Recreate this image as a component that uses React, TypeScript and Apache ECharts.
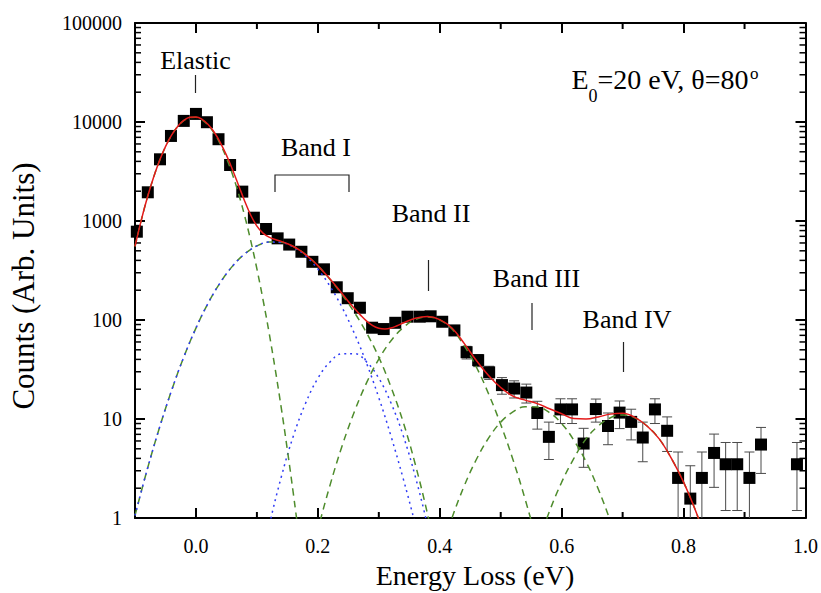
import React, { useEffect, useRef } from "react";
import * as echarts from "echarts";

// ---- measured data (energy loss in eV, counts) ----
const energy = [-0.097, -0.079, -0.059, -0.041, -0.020, 0.000, 0.018, 0.037, 0.056, 0.076, 0.095, 0.115, 0.134, 0.153, 0.173, 0.191, 0.210, 0.231, 0.249, 0.269, 0.289, 0.308, 0.327, 0.347, 0.367, 0.385, 0.404, 0.424, 0.444, 0.463, 0.481, 0.502, 0.522, 0.542, 0.560, 0.579, 0.598, 0.617, 0.636, 0.656, 0.676, 0.695, 0.714, 0.733, 0.753, 0.773, 0.791, 0.811, 0.830, 0.850, 0.869, 0.888, 0.908, 0.927, 0.986];
const counts = [780, 1950, 4200, 7230, 10260, 12070, 9950, 6700, 3680, 1980, 1080, 830, 668, 578, 489, 387, 325, 214, 166, 133, 83.6, 81, 93.7, 108, 108, 109, 96, 78.5, 47.3, 39.3, 29.6, 22, 20.3, 18.5, 11.5, 6.6, 12.5, 12.5, 5.65, 12.6, 8.5, 11.6, 9.35, 6.5, 12.5, 7.6, 2.54, 1.57, 2.54, 4.54, 3.49, 3.49, 2.54, 5.52, 3.49];
const errors = [28, 44, 65, 85, 101, 110, 100, 82, 61, 44, 33, 29, 26, 24, 22, 20, 18, 15, 13, 11.5, 9, 9, 9.7, 10.4, 10.4, 10.4, 9.8, 8.9, 6.9, 5.5, 4.5, 4.2, 4.0, 4.0, 3.6, 2.7, 3.5, 3.5, 2.4, 3.3, 3.0, 3.6, 3.2, 2.8, 3.5, 2.9, 2.1, 1.8, 2.1, 2.5, 2.3, 2.3, 2.1, 2.7, 2.3];

// ---- fitted curves: [energy, counts] ----
const totalFit: [number, number][] = [[-0.10, 554], [-0.09, 1004], [-0.08, 1705], [-0.07, 2709], [-0.06, 4035], [-0.05, 5636], [-0.04, 7364], [-0.03, 9024], [-0.02, 10362], [-0.01, 11150], [0.00, 11243], [0.01, 10642], [0.02, 9445], [0.03, 7882], [0.04, 6203], [0.05, 4622], [0.06, 3296], [0.07, 2285], [0.08, 1586], [0.09, 1144], [0.10, 888], [0.11, 754], [0.12, 687], [0.13, 650], [0.14, 622], [0.15, 590], [0.16, 553], [0.17, 508], [0.18, 458], [0.19, 405], [0.20, 354], [0.21, 303], [0.22, 259], [0.23, 219], [0.24, 184], [0.25, 154], [0.26, 131], [0.27, 112], [0.28, 97.4], [0.29, 87.8], [0.30, 82.5], [0.31, 81.2], [0.32, 83], [0.33, 87.5], [0.34, 93.2], [0.36, 104.3], [0.38, 108.3], [0.40, 101], [0.42, 83], [0.44, 58], [0.46, 39], [0.48, 27.5], [0.50, 20.8], [0.52, 17.0], [0.54, 15.5], [0.56, 14.3], [0.58, 12.7], [0.60, 11.3], [0.62, 10.1], [0.64, 10.0], [0.66, 10.5], [0.68, 11.2], [0.70, 11.4], [0.72, 10.4], [0.74, 8.5], [0.76, 6.3], [0.78, 4.0], [0.80, 2.3], [0.82, 1.17], [0.84, 0.52]];
const elasticFit: [number, number][] = [[-0.10, 553], [-0.09, 1002], [-0.08, 1702], [-0.07, 2704], [-0.06, 4027], [-0.05, 5623], [-0.04, 7345], [-0.03, 8995], [-0.02, 10320], [-0.01, 11090], [0.00, 11160], [0.01, 10530], [0.02, 9297], [0.03, 7692], [0.04, 5964], [0.05, 4330], [0.06, 2946], [0.07, 1877], [0.08, 1121], [0.09, 627], [0.10, 328], [0.11, 161], [0.12, 74.1], [0.13, 31.9], [0.14, 12.9], [0.15, 4.86], [0.16, 1.72], [0.17, 0.57], [0.18, 0.18]];
const bandIFit: [number, number][] = [[-0.10, 1.06], [-0.08, 3.08], [-0.06, 8.1], [-0.04, 19.4], [-0.02, 42.2], [0.00, 82.8], [0.02, 148], [0.04, 239], [0.06, 350], [0.08, 465], [0.10, 560], [0.12, 613], [0.14, 609], [0.16, 551], [0.18, 458], [0.20, 353], [0.22, 257], [0.24, 179], [0.26, 119], [0.28, 74], [0.30, 42], [0.32, 21], [0.34, 9.3], [0.36, 3.45], [0.38, 1.09], [0.40, 0.29]];
const bandIaFit: [number, number][] = [[-0.10, 1.06], [-0.08, 3.08], [-0.06, 8.1], [-0.04, 19.4], [-0.02, 42.2], [0.00, 82.8], [0.02, 148], [0.04, 239], [0.06, 350], [0.08, 465], [0.10, 560], [0.12, 612], [0.14, 606], [0.16, 544], [0.18, 443], [0.20, 327], [0.22, 219], [0.24, 133], [0.26, 73], [0.28, 36.4], [0.30, 16.4], [0.32, 6.7], [0.34, 2.5], [0.36, 0.85], [0.38, 0.26]];
const bandIbFit: [number, number][] = [[0.10, 0.22], [0.12, 0.83], [0.14, 2.6], [0.16, 6.8], [0.18, 14.5], [0.20, 25.8], [0.22, 37.7], [0.24, 45.7], [0.26, 45.7], [0.28, 37.7], [0.30, 25.8], [0.32, 14.5], [0.34, 6.8], [0.36, 2.6], [0.38, 0.83], [0.40, 0.22]];
const bandIIFit: [number, number][] = [[0.18, 0.24], [0.20, 0.76], [0.22, 2.15], [0.24, 5.4], [0.26, 11.9], [0.28, 23.3], [0.30, 40.3], [0.32, 61.8], [0.34, 83.9], [0.36, 100.8], [0.38, 107.2], [0.40, 100], [0.42, 81], [0.44, 55], [0.46, 33.5], [0.48, 18], [0.50, 8.8], [0.52, 3.9], [0.54, 1.55], [0.56, 0.55], [0.58, 0.17]];
const bandIIIFit: [number, number][] = [[0.38, 0.155], [0.40, 0.42], [0.42, 1.0], [0.44, 2.1], [0.46, 3.9], [0.48, 6.4], [0.50, 9.3], [0.52, 11.8], [0.54, 13.3], [0.56, 13.2], [0.58, 11.6], [0.60, 9.0], [0.62, 6.1], [0.64, 3.7], [0.66, 1.96], [0.68, 0.92], [0.70, 0.38], [0.72, 0.14]];
const bandIVFit: [number, number][] = [[0.54, 0.2], [0.56, 0.52], [0.58, 1.17], [0.60, 2.3], [0.62, 4.0], [0.64, 6.3], [0.66, 8.5], [0.68, 10.3], [0.70, 11.0], [0.72, 10.3], [0.74, 8.5], [0.76, 6.3], [0.78, 4.0], [0.80, 2.3], [0.82, 1.17], [0.84, 0.52], [0.86, 0.2]];

// ---- axis ticks ----
const xMajorTicks = [0, 0.2, 0.4, 0.6, 0.8, 1.0];
const xMinorTicks = [0.1, 0.3, 0.5, 0.7, 0.9];
const yMinorTicks = [2, 3, 4, 5, 6, 7, 8, 9, 20, 30, 40, 50, 60, 70, 80, 90, 200, 300, 400, 500, 600, 700, 800, 900, 2000, 3000, 4000, 5000, 6000, 7000, 8000, 9000, 20000, 30000, 40000, 50000, 60000, 70000, 80000, 90000];

const X_MIN = -0.1;
const X_MAX = 1.0;
const Y_MIN = 1;
const Y_MAX = 100000;

const FONT = "Liberation Serif, Times New Roman, serif";
const GREEN = "#4e8c2c";
const BLUE = "#2f3cf5";
const RED = "#e41a1a";

function fitLine(name: string, data: [number, number][], color: string, type: any, z: number) {
  return {
    name,
    type: "line",
    data,
    smooth: 0.4,
    showSymbol: false,
    symbol: "none",
    silent: true,
    clip: true,
    z,
    lineStyle: { color, width: 1.5, type },
  };
}

function txt(text: string, x: number, y: number, size: number, align = "center", extra: any = {}) {
  return {
    type: "text",
    x,
    y,
    ...extra,
    style: { text, font: `${size}px ${FONT}`, fill: "#000", textAlign: align, textVerticalAlign: "middle" },
  };
}

export default function App() {
  const ref = useRef<HTMLDivElement>(null);
  useEffect(() => {
    if (!ref.current) return;
    const chart = echarts.init(ref.current, null, { renderer: "svg" });
    const axisLine = { show: true, onZero: false, lineStyle: { color: "#000", width: 2 } };
    const tickStyle = { color: "#000", width: 2 };
    const option: any = {
      animation: false,
      backgroundColor: "#fff",
      grid: { left: 135, right: 14, top: 23, bottom: 75, containLabel: false },
      xAxis: [
        {
          type: "value",
          min: X_MIN,
          max: X_MAX,
          position: "bottom",
          axisLine,
          axisTick: { show: true, inside: true, length: 10, customValues: xMajorTicks, lineStyle: tickStyle },
          axisLabel: {
            show: true,
            customValues: xMajorTicks,
            formatter: (v: number) => v.toFixed(1),
            fontFamily: FONT,
            fontSize: 20,
            color: "#000",
            margin: 18,
          },
          splitLine: { show: false },
        },
        {
          type: "value",
          min: X_MIN,
          max: X_MAX,
          position: "top",
          axisLine,
          axisTick: { show: true, inside: true, length: 10, customValues: xMajorTicks, lineStyle: tickStyle },
          axisLabel: { show: false },
          splitLine: { show: false },
        },
      ],
      yAxis: [
        {
          type: "log",
          logBase: 10,
          min: Y_MIN,
          max: Y_MAX,
          splitNumber: 5,
          position: "left",
          axisLine,
          axisTick: { show: true, inside: true, length: 10, lineStyle: tickStyle },
          axisLabel: {
            formatter: (v: number) => String(Math.round(v)),
            fontFamily: FONT,
            fontSize: 20,
            color: "#000",
            margin: 13,
          },
          splitLine: { show: false },
        },
        {
          type: "log",
          logBase: 10,
          min: Y_MIN,
          max: Y_MAX,
          splitNumber: 5,
          position: "right",
          axisLine,
          axisTick: { show: true, inside: true, length: 10, lineStyle: tickStyle },
          axisLabel: { show: false },
          splitLine: { show: false },
        },
      ],
      series: [
        {
          type: "custom",
          name: "yMinorTicks",
          silent: true,
          data: yMinorTicks.map((v) => [X_MIN, v]),
          encode: { x: 0, y: 1 },
          renderItem: (_p: any, api: any) => {
            const v = api.value(1);
            const l = api.coord([X_MIN, v]);
            const r = api.coord([X_MAX, v]);
            const st = { stroke: "#000", lineWidth: 1.5 };
            return {
              type: "group",
              children: [
                { type: "line", shape: { x1: l[0], y1: l[1], x2: l[0] + 6, y2: l[1] }, style: st },
                { type: "line", shape: { x1: r[0] - 6, y1: r[1], x2: r[0], y2: r[1] }, style: st },
              ],
            };
          },
          z: 5,
        },
        {
          type: "custom",
          name: "xMinorTicks",
          silent: true,
          data: xMinorTicks.map((v) => [v, Y_MIN]),
          encode: { x: 0, y: 1 },
          renderItem: (_p: any, api: any) => {
            const v = api.value(0);
            const b = api.coord([v, Y_MIN]);
            const t = api.coord([v, Y_MAX]);
            const st = { stroke: "#000", lineWidth: 2 };
            return {
              type: "group",
              children: [
                { type: "line", shape: { x1: b[0], y1: b[1], x2: b[0], y2: b[1] - 6 }, style: st },
                { type: "line", shape: { x1: t[0], y1: t[1], x2: t[0], y2: t[1] + 6 }, style: st },
              ],
            };
          },
          z: 5,
        },
        {
          type: "custom",
          name: "errorBars",
          silent: true,
          clip: true,
          data: energy.map((x, i) => [x, counts[i], errors[i]]),
          encode: { x: 0, y: 1 },
          renderItem: (_p: any, api: any) => {
            const x = api.value(0);
            const y = api.value(1);
            const e = api.value(2);
            const hi = api.coord([x, y + e]);
            const lo = api.coord([x, Math.max(y - e, 0.01)]);
            const w = 5;
            const st = { stroke: "#4a4a4a", lineWidth: 1 };
            return {
              type: "group",
              children: [
                { type: "line", shape: { x1: hi[0], y1: hi[1], x2: lo[0], y2: lo[1] }, style: st },
                { type: "line", shape: { x1: hi[0] - w, y1: hi[1], x2: hi[0] + w, y2: hi[1] }, style: st },
                { type: "line", shape: { x1: lo[0] - w, y1: lo[1], x2: lo[0] + w, y2: lo[1] }, style: st },
              ],
            };
          },
          z: 2,
        },
        {
          type: "scatter",
          name: "Data",
          data: energy.map((x, i) => [x, counts[i]]),
          symbol: "rect",
          symbolSize: 12,
          itemStyle: { color: "#000", opacity: 1 },
          silent: true,
          z: 3,
        },
        fitLine("Band I", bandIFit, GREEN, [7, 5], 4),
        fitLine("Band I a", bandIaFit, BLUE, [2, 4], 4),
        fitLine("Band I b", bandIbFit, BLUE, [2, 4], 4),
        fitLine("Elastic", elasticFit, GREEN, [7, 5], 4),
        fitLine("Band II", bandIIFit, GREEN, [7, 5], 4),
        fitLine("Band III", bandIIIFit, GREEN, [7, 5], 4),
        fitLine("Band IV", bandIVFit, GREEN, [7, 5], 4),
        fitLine("Total", totalFit, RED, "solid", 6),
      ],
      graphic: {
        elements: [
          txt("Energy Loss (eV)", 475, 575, 28),
          txt("Counts (Arb. Units)", 23, 286, 31, "center", { rotation: Math.PI / 2 }),
          txt("Elastic", 195.5, 60, 26),
          { type: "line", shape: { x1: 195.5, y1: 75, x2: 195.5, y2: 93 }, style: { stroke: "#222", lineWidth: 1.2 } },
          txt("Band I", 316, 147, 26),
          { type: "polyline", shape: { points: [[275, 192], [275, 175], [349, 175], [349, 192]] }, style: { stroke: "#222", lineWidth: 1.2, fill: "none" } },
          txt("Band II", 431, 213, 26),
          { type: "line", shape: { x1: 428.5, y1: 260, x2: 428.5, y2: 291 }, style: { stroke: "#222", lineWidth: 1.2 } },
          txt("Band III", 536.5, 278, 26),
          { type: "line", shape: { x1: 532, y1: 303, x2: 532, y2: 330 }, style: { stroke: "#222", lineWidth: 1.2 } },
          txt("Band IV", 627, 319, 26),
          { type: "line", shape: { x1: 623.5, y1: 342, x2: 623.5, y2: 372 }, style: { stroke: "#222", lineWidth: 1.2 } },
          txt("E", 571.5, 79, 28, "left"),
          txt("0", 588.5, 96, 18, "left"),
          txt("=20 eV, θ=80", 597.5, 79, 28, "left"),
          txt("o", 750, 73, 17, "left"),
        ],
      },
    };
    chart.setOption(option);
    return () => chart.dispose();
  }, []);
  return (
    <div
      ref={ref}
      style={{ position: "fixed", left: 0, top: 0, width: 821, height: 593, background: "#fff" }}
    />
  );
}
